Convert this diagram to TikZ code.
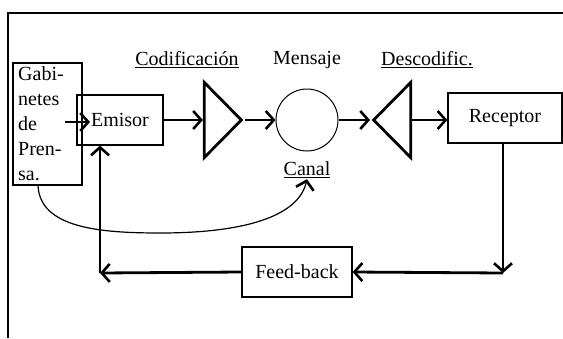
\documentclass[tikz,border=0pt]{standalone}
\usepackage{fontspec}
\setmainfont{Liberation Serif}
\usetikzlibrary{arrows.meta,shapes.geometric}

\tikzset{
  caja/.style={draw,rectangle,line width=1.2pt,inner sep=0pt},
  punta/.tip={Straight Barb[length=8pt,width=18pt,line width=2.6pt]},
  flecha/.style={line width=2.8pt,-punta},
  fina/.style={line width=1.2pt,-punta},
  triang/.style={draw,isosceles triangle,isosceles triangle stretches,
    minimum width=75pt,minimum height=37pt,inner sep=0pt,line width=2.8pt}
}

\begin{document}
\begin{tikzpicture}[x=1pt,y=-1pt,font=\fontsize{20}{25}\selectfont]

  \useasboundingbox (0,0) rectangle (563,338);
  % marco
  \draw[line width=1.5pt] (8,338) -- (8,13) -- (563,13);

  \begin{scope}[every node/.style={caja}]
    \node[minimum width=69pt,minimum height=122pt] (gab) at (47.5,124) {};
    \node[minimum width=86pt,minimum height=50pt] (emi) at (120,120) {Emisor};
    \node[minimum width=114pt,minimum height=50pt] (rec) at (505,118) {Receptor};
    \node[minimum width=110pt,minimum height=50pt] (fb) at (297,272) {Feed-back};
  \end{scope}

  \node[anchor=north west,align=left,inner sep=0pt] (gabtxt) at (18,66)
    {Gabi-\\netes\\de\\Pren-\\sa.};

  % canal
  \node[triang,anchor=apex] (cod) at (245,120) {};
  \node[draw,circle,minimum size=62pt,inner sep=0pt,line width=1pt] (men) at (307,120) {};
  \node[triang,shape border rotate=180,anchor=apex] (des) at (370,120) {};

  \begin{scope}[every node/.style={inner sep=1pt}]
    \node (lcod) at (187,60) {\underline{Codificación}};
    \node (lmen) at (307,60) {Mensaje};
    \node (ldes) at (427,60) {\underline{Descodific.}};
    \node (can) at (307,170) {\underline{Canal}};
  \end{scope}

  \coordinate (g1) at (65,122);
  \coordinate (e1) at (90,122);
  \coordinate (c1) at (503,273);
  \coordinate (c2) at (100,273);

  \draw[flecha] (g1) -- (e1);
  \draw[flecha] (emi.east) -- (cod.west);
  \draw[flecha] (cod.apex) -- (men.west);
  \draw[flecha] (men.east) -- (des.apex);
  \draw[flecha] (des.east) -- (des.east -| rec.west);

  % realimentacion
  \draw[fina] (rec.south -| c1) -- (c1);
  \draw[flecha] (c1) -- (fb.east);
  \draw[flecha] (fb.west) -- (c2);
  \draw[flecha] (c2) -- (c2 |- emi.south);

  \draw[fina] ([xshift=-9.5pt]gab.south) .. controls (40,228) and (100,233) .. (160,233)
    .. controls (240,233) and (298,218) .. (can.south);

\end{tikzpicture}
\end{document}
